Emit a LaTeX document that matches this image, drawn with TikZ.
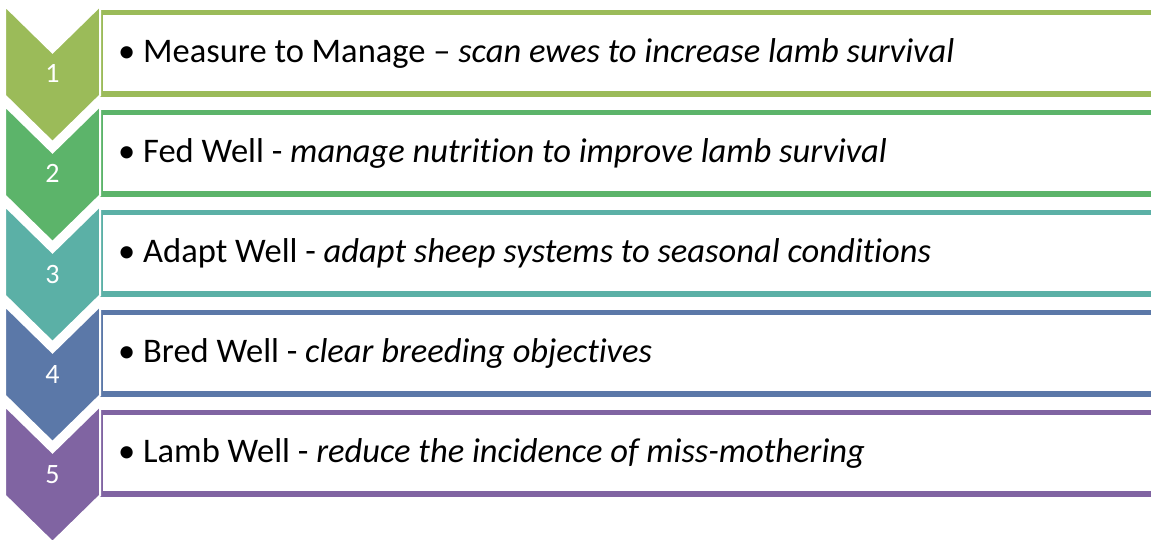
\documentclass[tikz,border=0pt]{standalone}
\usepackage{fontspec}
\setmainfont[Ligatures=NoCommon]{Carlito}
\definecolor{stepA}{RGB}{155,187,89}
\definecolor{stepB}{RGB}{92,180,106}
\definecolor{stepC}{RGB}{91,176,166}
\definecolor{stepD}{RGB}{91,120,168}
\definecolor{stepE}{RGB}{128,100,162}
\tikzset{
  chevron/.style={draw=white, line width=2pt, line join=miter},
  itembox/.style={fill=white, line width=5.5pt},
  itemtext/.style={anchor=base west, inner sep=0pt, font=\fontsize{34.5}{41}\selectfont},
  numtext/.style={anchor=base, inner sep=0pt, text=white, font=\fontsize{28}{34}\selectfont},
}
\begin{document}
\begin{tikzpicture}[x=1pt, y=-1pt]
\useasboundingbox (0,0) rectangle (1151,540);
\clip (0,0) rectangle (1151,540);
\foreach \k/\col/\num/\head/\rest in {
  0/stepA/1/Measure to Manage --/scan ewes to increase lamb survival,
  1/stepB/2/Fed Well -/manage nutrition to improve lamb survival,
  2/stepC/3/Adapt Well -/adapt sheep systems to seasonal conditions,
  3/stepD/4/Bred Well -/clear breeding objectives,
  4/stepE/5/Lamb Well -/reduce the incidence of miss-mothering}{
  \pgfmathsetmacro{\yo}{6+100*\k}
  % text box with coloured frame, running off the right edge
  \draw[itembox, draw=\col] (100,\yo+6.5) rectangle (1165,\yo+88);
  \node[itemtext] (t\num) at (118,\yo+56.5) {\textbullet\ \head\ \textit{\rest}};
  % numbered chevron
  \filldraw[chevron, fill=\col] (5,\yo) -- (52.5,\yo+46.5) -- (100,\yo) -- (100,\yo+89.5)
     -- (52.5,\yo+136) -- (5,\yo+89.5) -- cycle;
  \node[numtext] (n\num) at (52.5,\yo+77) {\num};
}
\end{tikzpicture}
\end{document}
